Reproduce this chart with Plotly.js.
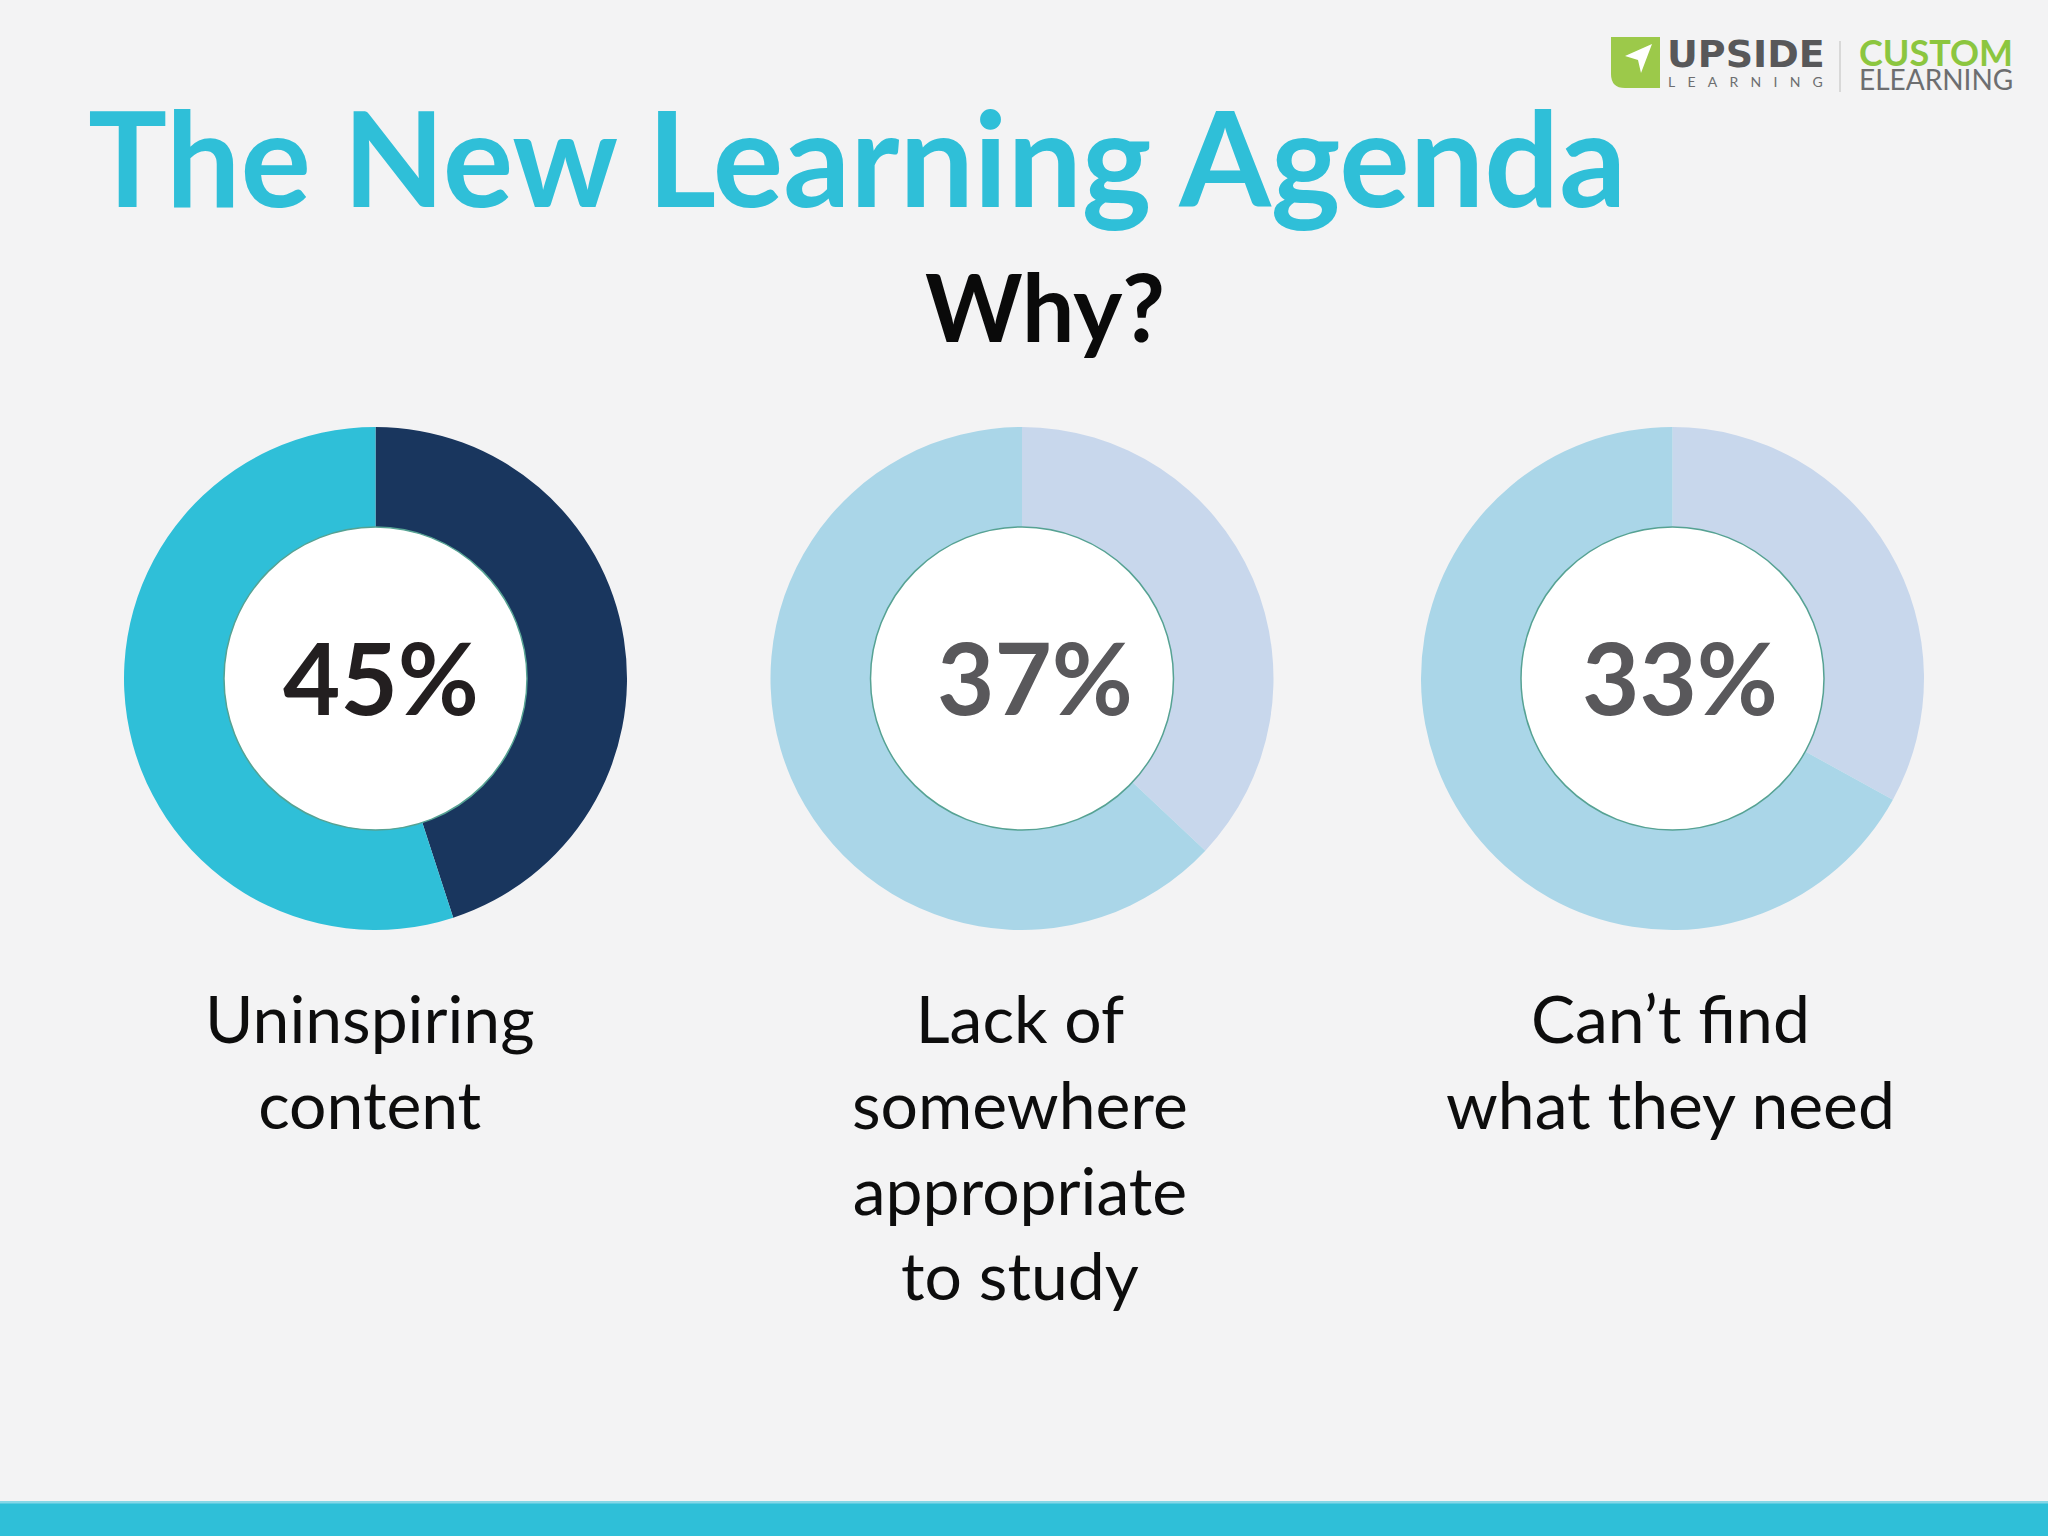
<!DOCTYPE html>
<html>
<head>
<meta charset="utf-8">
<script src="https://cdn.plot.ly/plotly-3.0.1.min.js"></script>
<style>
  html, body { margin: 0; padding: 0; background: #f3f3f4; }
  #chart { width: 2048px; height: 1536px; }
</style>
</head>
<body>
<div id="chart"></div>
<script>
// ---- data ----
const categories = ["Uninspiring<br>content", "Lack of<br>somewhere<br>appropriate<br>to study", "Can\u2019t find<br>what they need"];
const percents = [45, 37, 33];
const mainTitle = "The New Learning Agenda";
const subTitle = "Why?";

// ---- styles ----
const W = 2048, H = 1536;
const FONT = "Lato, 'Open Sans', sans-serif";
const centersX = [375.5, 1022, 1672.5];
const pctOffsets = [5.5, 13, 7.5];
const labelOffsets = [-6, -2, -2];
const centerY = 678.5;
const outerR = 251.5;
const innerR = 151.5;
const sliceColors = [["#19365e", "#2fbfd8"], ["#c8d7ec", "#aad6e8"], ["#c8d7ec", "#aad6e8"]];
const pctColors = ["#231f20", "#59585b", "#59585b"];

const px = x => x / W;
const py = y => 1 - y / H;

function domainFor(cx, cy, r) {
  return { x: [px(cx - r), px(cx + r)], y: [py(cy + r), py(cy - r)] };
}

const traces = [];
percents.forEach((p, i) => {
  traces.push({
    type: "pie",
    values: [p, 100 - p],
    labels: ["share", "rest"],
    sort: false,
    direction: "clockwise",
    rotation: 0,
    hole: 0.58,
    textinfo: "none",
    hoverinfo: "skip",
    showlegend: false,
    marker: { colors: sliceColors[i], line: { width: 0 } },
    domain: domainFor(centersX[i], centerY, outerR)
  });
  traces.push({
    type: "pie",
    values: [1],
    labels: ["centre"],
    textinfo: "none",
    hoverinfo: "skip",
    showlegend: false,
    marker: { colors: ["#ffffff"], line: { color: "#56a293", width: 1.5 } },
    domain: domainFor(centersX[i], centerY, innerR)
  });
});

const annotations = [];
function ann(text, x, y, size, color, opts) {
  annotations.push(Object.assign({
    text: text, xref: "paper", yref: "paper", x: px(x), y: py(y),
    xanchor: "center", yanchor: "middle", showarrow: false,
    font: { family: FONT, size: size, color: color }
  }, opts || {}));
}

// titles
ann("<b>" + mainTitle + "</b>", 86, 156, 132, "#2fbfd8", { xanchor: "left" });
ann("<b>" + subTitle + "</b>", 1045, 306, 93, "#0a0a0a");

// percentages
percents.forEach((p, i) => {
  ann("<b>" + p + "%</b>", centersX[i] + pctOffsets[i], 676, 99, pctColors[i]);
});

// labels
categories.forEach((c, i) => {
  ann(c, centersX[i] + labelOffsets[i], 976, 66, "#0d0d0d", { yanchor: "top" });
});

// logo text
ann("<b>UPSIDE</b>", 1665, 54, 38, "#58585a", { xanchor: "left", font: { family: "'DejaVu Sans', sans-serif", size: 38, color: "#58585a" } });
const sp = "\u2002\u2005\u2009";
ann(["L","E","A","R","N","I","N","G"].join(sp), 1666, 82, 14, "#6d6e70", { xanchor: "left" });
ann("<span style=\"font-size:36px;color:#8cc63f\"><b>CUSTOM</b></span><br><span style=\"font-size:28px;color:#6d6e70\">ELEARNING</span>",
    1857, 63, 18.5, "#6d6e70", { xanchor: "left", align: "left" });

const shapes = [
  // bottom bar
  { type: "rect", xref: "paper", yref: "paper", x0: 0, x1: 1, y0: py(1536), y1: py(1501),
    fillcolor: "#2fbfd8", line: { width: 0 }, layer: "below" },
  { type: "rect", xref: "paper", yref: "paper", x0: 0, x1: 1, y0: py(1503.5), y1: py(1501),
    fillcolor: "#86d7e7", line: { width: 0 }, layer: "below" },
  // logo separator
  { type: "line", xref: "paper", yref: "paper", x0: px(1840), x1: px(1840), y0: py(92), y1: py(41),
    line: { color: "#cfcfcf", width: 1.5 } },
  // logo icon (rounded bottom-left)
  { type: "path", xref: "paper", yref: "paper",
    path: `M ${px(1611)},${py(37)} L ${px(1660)},${py(37)} L ${px(1660)},${py(88)} L ${px(1625)},${py(88)} Q ${px(1611)},${py(88)} ${px(1611)},${py(74)} Z`,
    fillcolor: "#9cc94a", line: { width: 0 } },
  { type: "path", xref: "paper", yref: "paper",
    path: `M ${px(1652)},${py(44)} L ${px(1625)},${py(56)} L ${px(1638)},${py(60)} L ${px(1641)},${py(73)} Z`,
    fillcolor: "#ffffff", line: { width: 0 } }
];

const layout = {
  width: W, height: H,
  margin: { l: 0, r: 0, t: 0, b: 0 },
  paper_bgcolor: "#f3f3f4",
  plot_bgcolor: "#f3f3f4",
  showlegend: false,
  annotations: annotations,
  shapes: shapes
};

Plotly.newPlot("chart", traces, layout, { staticPlot: true, displayModeBar: false });
</script>
</body>
</html>
